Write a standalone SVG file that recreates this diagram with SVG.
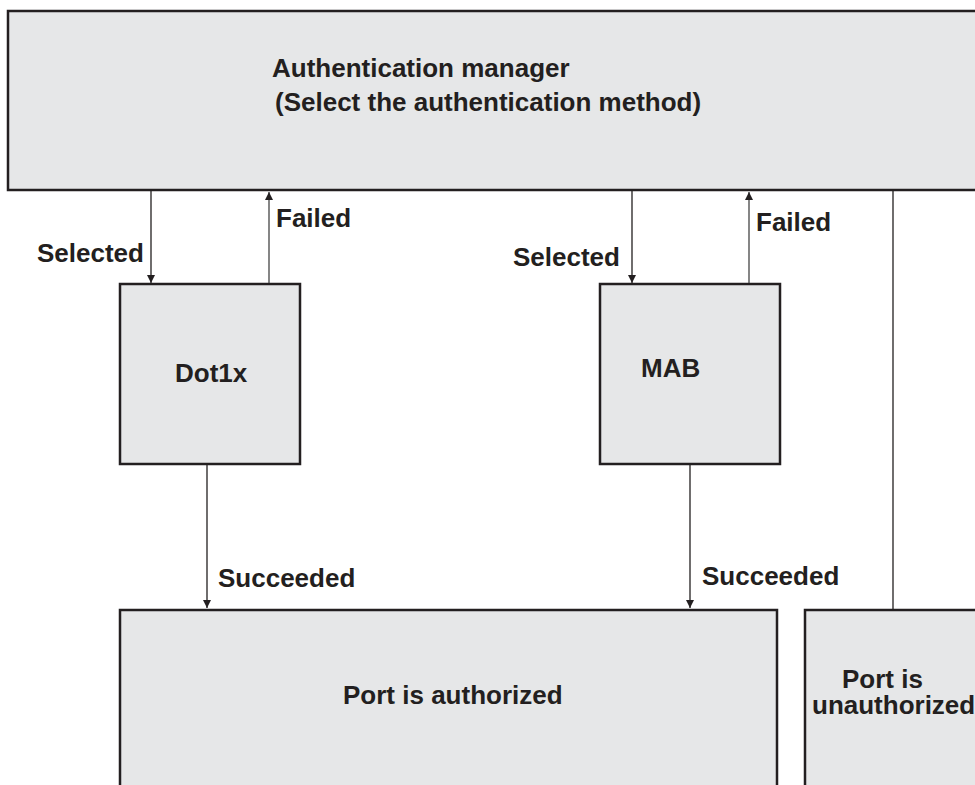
<svg xmlns="http://www.w3.org/2000/svg" width="975" height="785" viewBox="0 0 975 785">
<defs>
<marker id="ah" viewBox="0 0 10 10" refX="10" refY="5" markerWidth="8" markerHeight="11" markerUnits="userSpaceOnUse" orient="auto">
<path d="M0,0 L10,5 L0,10 z" fill="#231f20"/>
</marker>
</defs>
<style>
.box{fill:#e6e7e8;stroke:#231f20;stroke-width:2.5}
.lbl{font-family:"Liberation Sans",Arial,sans-serif;font-weight:bold;font-size:26px;fill:#231f20}
.con{stroke:#231f20;stroke-width:1.3;fill:none}
.fail{stroke:#444;stroke-width:1.3;fill:none}
</style>
<rect width="975" height="785" fill="#fff"/>
<g id="auth-manager">
<rect class="box" x="8" y="11" width="980" height="179"/>
<text class="lbl" x="272" y="77">Authentication manager</text>
<text class="lbl" x="275" y="111">(Select the authentication method)</text>
</g>
<g id="dot1x">
<rect class="box" x="120" y="284" width="180" height="180"/>
<text class="lbl" x="175" y="382">Dot1x</text>
</g>
<g id="mab">
<rect class="box" x="600" y="284" width="180" height="180"/>
<text class="lbl" x="641" y="377">MAB</text>
</g>
<g id="port-authorized">
<rect class="box" x="120" y="610" width="657" height="190"/>
<text class="lbl" x="343" y="704">Port is authorized</text>
</g>
<g id="port-unauthorized">
<rect class="box" x="805" y="610" width="190" height="190"/>
<text class="lbl" x="842" y="688">Port is</text>
<text class="lbl" x="812" y="714">unauthorized</text>
</g>
<g id="connectors">
<line class="con" x1="151" y1="191" x2="151" y2="283" marker-end="url(#ah)"/>
<line class="fail" x1="269" y1="283" x2="269" y2="192" marker-end="url(#ah)"/>
<line class="con" x1="632" y1="191" x2="632" y2="283" marker-end="url(#ah)"/>
<line class="fail" x1="749" y1="283" x2="749" y2="192" marker-end="url(#ah)"/>
<line class="con" x1="207" y1="465" x2="207" y2="608" marker-end="url(#ah)"/>
<line class="con" x1="690" y1="465" x2="690" y2="608" marker-end="url(#ah)"/>
<line class="con" x1="893" y1="191" x2="893" y2="609"/>
<text class="lbl" x="37" y="262">Selected</text>
<text class="lbl" x="276" y="227">Failed</text>
<text class="lbl" x="513" y="266">Selected</text>
<text class="lbl" x="756" y="231">Failed</text>
<text class="lbl" x="218" y="587">Succeeded</text>
<text class="lbl" x="702" y="585">Succeeded</text>
</g>
</svg>
